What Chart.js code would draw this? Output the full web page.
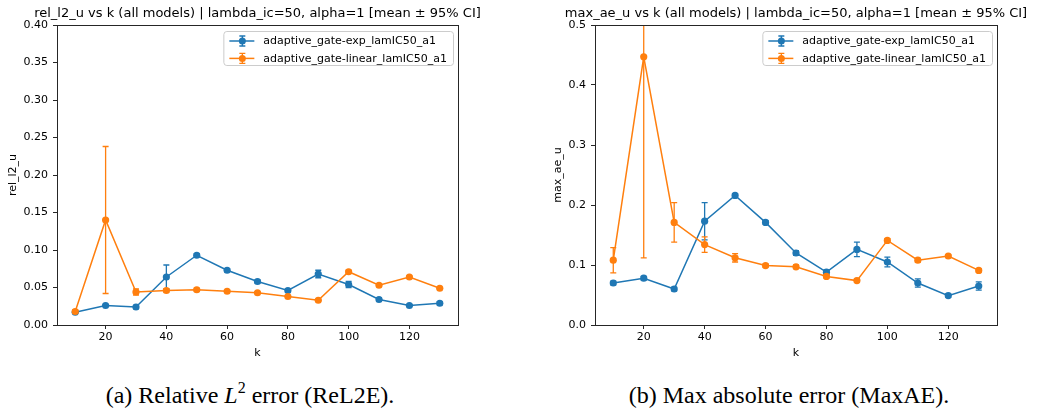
<!DOCTYPE html>
<html>
<head>
<meta charset="utf-8">
<script src="https://cdn.jsdelivr.net/npm/chart.js@4.4.0/dist/chart.umd.min.js"></script>
<style>
  body { margin: 0; background: #fff; width: 1042px; height: 413px; position: relative; overflow: hidden; }
  .box { position: absolute; top: 0; height: 370px; }
  .cap { position: absolute; top: 381px; font-family: "Liberation Serif", "Times New Roman", serif; font-size: 24px; line-height: 28px;
         color: #000; transform: translateX(-50%); white-space: nowrap; }
  .cap sup { font-size: 16px; line-height: 0; vertical-align: 10px; }
</style>
</head>
<body>
<div class="box" style="left:0;width:520px"><canvas id="relL2"></canvas></div>
<div class="box" style="left:520px;width:522px"><canvas id="maxAe"></canvas></div>
<div class="cap" style="left:250px">(a) Relative <i>L</i><sup>2</sup> error (ReL2E).</div>
<div class="cap" style="left:789px">(b) Max absolute error (MaxAE).</div>

<script>
// datos
const kValues = [10, 20, 30, 40, 50, 60, 70, 80, 90, 100, 110, 120, 130];
const seriesNames = ['adaptive_gate-exp_lamIC50_a1', 'adaptive_gate-linear_lamIC50_a1'];

// rel_l2_u (media y semiancho del IC 95%)
const relL2Exp   = [0.017, 0.026, 0.024, 0.064, 0.093, 0.073, 0.058, 0.046, 0.068, 0.054, 0.034, 0.026, 0.029];
const relL2ExpCI = [0.001, 0.001, 0.002, 0.016, 0.002, 0.002, 0.002, 0.002, 0.005, 0.004, 0.002, 0.001, 0.002];
const relL2Lin   = [0.018, 0.140, 0.044, 0.046, 0.047, 0.045, 0.043, 0.038, 0.033, 0.071, 0.053, 0.064, 0.049];
const relL2LinCI = [0.002, 0.098, 0.004, 0.002, 0.002, 0.001, 0.001, 0.001, 0.001, 0.002, 0.001, 0.001, 0.001];

// max_ae_u
const maxAeExp   = [0.070, 0.078, 0.060, 0.173, 0.216, 0.171, 0.120, 0.088, 0.126, 0.105, 0.070, 0.049, 0.065];
const maxAeExpCI = [0.003, 0.003, 0.003, 0.031, 0.003, 0.003, 0.004, 0.004, 0.012, 0.008, 0.007, 0.003, 0.007];
const maxAeLin   = [0.108, 0.447, 0.171, 0.134, 0.112, 0.099, 0.097, 0.081, 0.074, 0.141, 0.108, 0.115, 0.091];
const maxAeLinCI = [0.021, 0.335, 0.033, 0.013, 0.007, 0.003, 0.003, 0.003, 0.003, 0.003, 0.003, 0.002, 0.003];

const xTicks = [20, 40, 60, 80, 100, 120];
const relL2Ticks = [0, 0.05, 0.10, 0.15, 0.20, 0.25, 0.30, 0.35, 0.40];
const maxAeTicks = [0, 0.1, 0.2, 0.3, 0.4, 0.5];

const BLUE = '#1f77b4';
const ORANGE = '#ff7f0e';
const FONT = '"DejaVu Sans", sans-serif';
const INK = '#262626';

// barras de error, marco, título y leyenda al estilo matplotlib
const mplDecor = {
  id: 'mplDecor',
  beforeDatasetDraw(chart, args) {
    const ds = chart.data.datasets[args.index];
    const { ctx, chartArea: a, scales: { x, y } } = chart;
    ctx.save();
    ctx.beginPath();
    ctx.rect(a.left, a.top, a.right - a.left, a.bottom - a.top);
    ctx.clip();
    ctx.strokeStyle = ds.borderColor;
    ctx.lineWidth = 1.3;
    ds.data.forEach((p, i) => {
      const px = x.getPixelForValue(p.x);
      const y0 = y.getPixelForValue(p.y - ds.ci[i]);
      const y1 = y.getPixelForValue(p.y + ds.ci[i]);
      ctx.beginPath();
      ctx.moveTo(px, y0); ctx.lineTo(px, y1);
      ctx.moveTo(px - 3, y0); ctx.lineTo(px + 3, y0);
      ctx.moveTo(px - 3, y1); ctx.lineTo(px + 3, y1);
      ctx.stroke();
    });
    ctx.restore();
  },
  afterDraw(chart, args, opts) {
    const { ctx, chartArea: a } = chart;
    ctx.save();
    // marco
    ctx.strokeStyle = INK;
    ctx.lineWidth = 1;
    ctx.strokeRect(Math.round(a.left) + 0.5, Math.round(a.top) + 0.5,
                   Math.round(a.right - a.left), Math.round(a.bottom - a.top));
    // título
    ctx.fillStyle = '#000';
    ctx.font = '13px ' + FONT;
    ctx.textAlign = 'center';
    ctx.textBaseline = 'middle';
    ctx.fillText(opts.title, (a.left + a.right) / 2, 14);
    // leyenda
    ctx.font = '11px ' + FONT;
    const labels = chart.data.datasets.map(d => d.label);
    const tw = Math.max(...labels.map(l => ctx.measureText(l).width));
    const w = 40 + tw + 6, h = 34;
    const bx = a.right - 5 - w, by = a.top + 6;
    ctx.fillStyle = 'rgba(255,255,255,0.8)';
    ctx.strokeStyle = '#cccccc';
    ctx.beginPath();
    ctx.roundRect(bx + 0.5, by + 0.5, w, h, 3);
    ctx.fill();
    ctx.stroke();
    chart.data.datasets.forEach((d, i) => {
      const cy = by + 10 + i * 17.4;
      const hx = bx + 19;
      ctx.strokeStyle = d.borderColor;
      ctx.lineWidth = 1.5;
      ctx.beginPath();
      ctx.moveTo(bx + 6, cy); ctx.lineTo(bx + 31, cy);
      ctx.stroke();
      ctx.lineWidth = 1.3;
      ctx.beginPath();
      ctx.moveTo(hx, cy - 5); ctx.lineTo(hx, cy + 5);
      ctx.moveTo(hx - 3, cy - 5); ctx.lineTo(hx + 3, cy - 5);
      ctx.moveTo(hx - 3, cy + 5); ctx.lineTo(hx + 3, cy + 5);
      ctx.stroke();
      ctx.fillStyle = d.borderColor;
      ctx.beginPath();
      ctx.arc(hx, cy, 3.5, 0, Math.PI * 2);
      ctx.fill();
      ctx.fillStyle = '#000';
      ctx.textAlign = 'left';
      ctx.fillText(d.label, bx + 40, cy + 0.5);
    });
    ctx.restore();
  }
};

function serie(label, vals, ci, color, order) {
  return {
    label,
    data: kValues.map((k, i) => ({ x: k, y: vals[i] })),
    ci,
    order,
    borderColor: color,
    backgroundColor: color,
    borderWidth: 1.5,
    pointRadius: 3.6,
    pointBorderWidth: 0,
    pointBackgroundColor: color,
    tension: 0,
    fill: false
  };
}

function axisFont() {
  return { family: FONT, size: 11 };
}

function makeChart(id, c) {
  return new Chart(document.getElementById(id), {
    type: 'line',
    data: {
      datasets: [
        serie(seriesNames[0], c.exp, c.expCI, BLUE, 1),
        serie(seriesNames[1], c.lin, c.linCI, ORANGE, 0)
      ]
    },
    options: {
      responsive: true,
      maintainAspectRatio: false,
      animation: false,
      layout: { padding: { left: 0, top: 25, right: c.padRight, bottom: 0 } },
      plugins: {
        legend: { display: false },
        tooltip: { enabled: false },
        mplDecor: { title: c.title }
      },
      scales: {
        x: {
          type: 'linear',
          min: 4,
          max: 136,
          afterBuildTicks: s => { s.ticks = xTicks.map(v => ({ value: v })); },
          afterFit: s => { s.height = 45; },
          grid: { drawOnChartArea: false, drawTicks: true, tickLength: 4, tickColor: INK, color: INK },
          border: { display: false },
          ticks: { color: '#000', font: axisFont(), padding: 2, maxRotation: 0, autoSkip: false },
          title: { display: true, text: 'k', color: '#000', font: axisFont(), padding: { top: 0, bottom: 10 } }
        },
        y: {
          min: 0,
          max: c.yMax,
          afterBuildTicks: s => { s.ticks = c.yTicks.map(v => ({ value: v })); },
          afterFit: s => { s.width = c.yWidth; },
          grid: { drawOnChartArea: false, drawTicks: true, tickLength: 4, tickColor: INK, color: INK },
          border: { display: false },
          ticks: { color: '#000', font: axisFont(), padding: 5, autoSkip: false, callback: v => v.toFixed(c.dec) },
          title: { display: true, text: c.yLabel, color: '#000', font: axisFont(), padding: { top: c.yTitlePad, bottom: 0 } }
        }
      }
    },
    plugins: [mplDecor]
  });
}

makeChart('relL2', {
  exp: relL2Exp, expCI: relL2ExpCI, lin: relL2Lin, linCI: relL2LinCI,
  title: 'rel_l2_u vs k (all models) | lambda_ic=50, alpha=1 [mean \u00b1 95% CI]',
  yLabel: 'rel_l2_u', yTicks: relL2Ticks, yMax: 0.40, dec: 2,
  yWidth: 57, padRight: 62, yTitlePad: 7
});

makeChart('maxAe', {
  exp: maxAeExp, expCI: maxAeExpCI, lin: maxAeLin, linCI: maxAeLinCI,
  title: 'max_ae_u vs k (all models) | lambda_ic=50, alpha=1 [mean \u00b1 95% CI]',
  yLabel: 'max_ae_u', yTicks: maxAeTicks, yMax: 0.5, dec: 1,
  yWidth: 75, padRight: 45, yTitlePad: 32
});
</script>
</body>
</html>
